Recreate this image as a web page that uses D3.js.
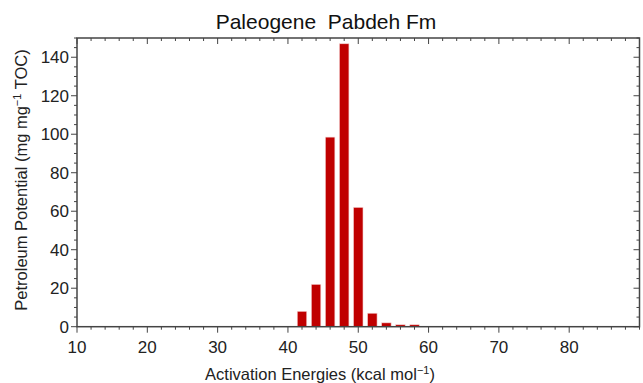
<!DOCTYPE html>
<html><head><meta charset="utf-8">
<script src="https://cdn.jsdelivr.net/npm/d3@7"></script>
<style>body{margin:0;background:#fff}svg{display:block}text{font-family:"Liberation Sans",Arial,sans-serif}</style>
</head><body><svg id="c" width="643" height="383"></svg>
<script>
const energies = [42, 44, 46, 48, 50, 52, 54, 56, 58];
const potentials = [8, 22, 98.5, 147, 62, 7, 2, 1, 1];
const xTicks = [10, 20, 30, 40, 50, 60, 70, 80];
const yTicks = [0, 20, 40, 60, 80, 100, 120, 140];
const title = "Paleogene  Pabdeh Fm";

const svg = d3.select("#c");
const m = {l: 77, r: 639.5, t: 38, b: 326.7};
const x = d3.scaleLinear().domain([10, 90]).range([m.l, m.r]);
const y = d3.scaleLinear().domain([0, 150]).range([m.b, m.t]);
const axisCol = "#444";

// bars
const bw = x(11.35) - x(10);
svg.append("g").selectAll("rect").data(energies).join("rect")
  .attr("x", (d) => x(d) - bw / 2)
  .attr("y", (d, i) => y(potentials[i]))
  .attr("width", bw)
  .attr("height", (d, i) => y(0) - y(potentials[i]))
  .attr("fill", "#c00000")
  .attr("stroke", "#f4d0d0").attr("stroke-width", 0.6);

// ticks
const minorX = d3.range(10, 90.1, 2);
const minorY = d3.range(0, 150.1, 5);
function tickLines(vals, isMajor, orient) {
  const g = svg.append("g").attr("stroke", axisCol).attr("stroke-width", 1);
  vals.forEach(v => {
    const L = isMajor(v) ? 6 : 3;
    if (orient === "bottom") g.append("line").attr("x1", x(v)).attr("x2", x(v)).attr("y1", m.b).attr("y2", m.b + L);
    if (orient === "top") g.append("line").attr("x1", x(v)).attr("x2", x(v)).attr("y1", m.t).attr("y2", m.t + L);
    if (orient === "left") g.append("line").attr("y1", y(v)).attr("y2", y(v)).attr("x1", m.l).attr("x2", m.l - L);
    if (orient === "right") g.append("line").attr("y1", y(v)).attr("y2", y(v)).attr("x1", m.r).attr("x2", m.r - L);
  });
}
const mx = v => v % 10 === 0 && v < 90;
const my = v => v % 20 === 0 && v < 150;
tickLines(minorX, mx, "bottom");
tickLines(minorX, mx, "top");
tickLines(minorY, my, "left");
tickLines(minorY, my, "right");

// frame
svg.append("rect").attr("x", m.l).attr("y", m.t).attr("width", m.r - m.l).attr("height", m.b - m.t)
  .attr("fill", "none").attr("stroke", axisCol).attr("stroke-width", 1.5);

// tick labels
svg.append("g").selectAll("text").data(xTicks).join("text")
  .attr("x", d => x(d)).attr("y", 352.5).attr("text-anchor", "middle")
  .attr("font-size", 17).attr("fill", "#222").text(d => d);
svg.append("g").selectAll("text").data(yTicks).join("text")
  .attr("x", 69).attr("y", d => y(d) + 6).attr("text-anchor", "end")
  .attr("font-size", 17).attr("fill", "#222").text(d => d);

// title
svg.append("text").attr("x", 326).attr("y", 28.5).attr("text-anchor", "middle")
  .attr("font-size", 21).attr("fill", "#111").attr("xml:space", "preserve").style("white-space", "pre").text(title);

// x axis title
const xt = svg.append("text").attr("x", 320).attr("y", 380).attr("text-anchor", "middle")
  .attr("font-size", 16.5).attr("fill", "#222");
xt.append("tspan").text("Activation Energies (kcal mol");
xt.append("tspan").attr("dy", -6).attr("font-size", 11).text("\u22121");
xt.append("tspan").attr("dy", 6).text(")");

// y axis title
const yt = svg.append("text").attr("transform", "translate(27,180) rotate(-90)").attr("text-anchor", "middle")
  .attr("font-size", 16.5).attr("fill", "#222");
yt.append("tspan").text("Petroleum Potential (mg mg");
yt.append("tspan").attr("dy", -6).attr("font-size", 11).text("\u22121");
yt.append("tspan").attr("dy", 6).text(" TOC)");
</script></body></html>
